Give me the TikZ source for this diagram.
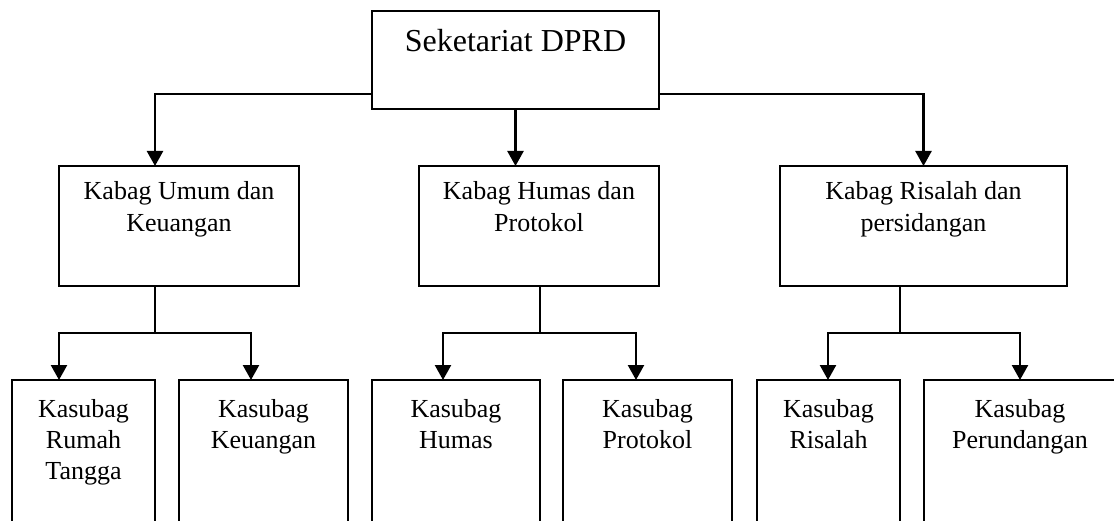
\documentclass[tikz,border=0pt]{standalone}
\usepackage{fontspec}
\setmainfont{Liberation Serif}
\usetikzlibrary{arrows.meta}
\tikzset{
  box/.style={draw, line width=1.8pt, inner sep=0pt, outer sep=0pt, anchor=north west},
  arr/.style={line width=2.4pt, -{Triangle[length=15pt,width=16pt]}},
  stub/.style={line width=1.4pt},
  t1/.style={font=\fontsize{32}{38}\selectfont, anchor=base, inner sep=0pt},
  t2/.style={font=\fontsize{26}{32}\selectfont, align=center, anchor=base, inner sep=0pt},
  t3/.style={font=\fontsize{26}{31}\selectfont, align=center, anchor=base, inner sep=0pt}
}
\begin{document}
\begin{tikzpicture}[x=1pt,y=-1pt]
\useasboundingbox (0,0) rectangle (1114,521);
\clip (0,0) rectangle (1114,521);
\fill[white] (0,0) rectangle (1114,521);
% level 1
\node[box, minimum width=287pt, minimum height=98pt] (top) at (372,11) {};
\node[t1] (ttop) at (515.5,52) {Seketariat DPRD};
% level 2 (text anchored at the baseline of its last line)
\node[box, minimum width=240pt, minimum height=120pt] (kU) at (59,166) {};
\node[box, minimum width=240pt, minimum height=120pt] (kH) at (419,166) {};
\node[box, minimum width=287pt, minimum height=120pt] (kR) at (780,166) {};
\node[t2] (tU) at (179,232) {Kabag Umum dan\\Keuangan};
\node[t2] (tH) at (539,232) {Kabag Humas dan\\Protokol};
\node[t2] (tR) at (923.5,232) {Kabag Risalah dan\\persidangan};
% level 3 (open at the bottom edge)
\node[box, minimum width=143pt, minimum height=170pt] (rt) at (12,380) {};
\node[box, minimum width=169pt, minimum height=170pt] (ku) at (179,380) {};
\node[box, minimum width=168pt, minimum height=170pt] (hu) at (372,380) {};
\node[box, minimum width=169pt, minimum height=170pt] (pr) at (563,380) {};
\node[box, minimum width=143pt, minimum height=170pt] (ri) at (757,380) {};
\node[box, minimum width=200pt, minimum height=170pt] (pe) at (924,380) {};
\node[t3] (trt) at (83.5,479) {Kasubag\\Rumah\\Tangga};
\node[t3] (tku) at (263.5,448) {Kasubag\\Keuangan};
\node[t3] (thu) at (456,448) {Kasubag\\Humas};
\node[t3] (tpr) at (647.5,448) {Kasubag\\Protokol};
\node[t3] (tri) at (828.5,448) {Kasubag\\Risalah};
\node[t3] (tpe) at (1020,448) {Kasubag\\Perundangan};
% connectors level 1 -> 2
\draw[arr] ([yshift=15pt]top.south west) -| ([xshift=-24pt]kU.north);
\draw[arr] (top.south) -- (top.south |- kH.north);
\draw[arr] ([yshift=15pt]top.south east) -| (kR.north);
% connectors level 2 -> 3
\coordinate (jU) at (155,333);
\coordinate (jH) at (540,333);
\coordinate (jR) at (900,333);
\draw[stub] (kU.south -| jU) -- (jU);
\draw[stub] (kH.south -| jH) -- (jH);
\draw[stub] (kR.south -| jR) -- (jR);
\draw[arr] (jU) -| ([xshift=-24.5pt]rt.north);
\draw[arr] (jU) -| ([xshift=-12.5pt]ku.north);
\draw[arr] (jH) -| ([xshift=-13pt]hu.north);
\draw[arr] (jH) -| ([xshift=-11.5pt]pr.north);
\draw[arr] (jR) -| ([xshift=-0.5pt]ri.north);
\draw[arr] (jR) -| (tpe.north |- pe.north);
\end{tikzpicture}
\end{document}
